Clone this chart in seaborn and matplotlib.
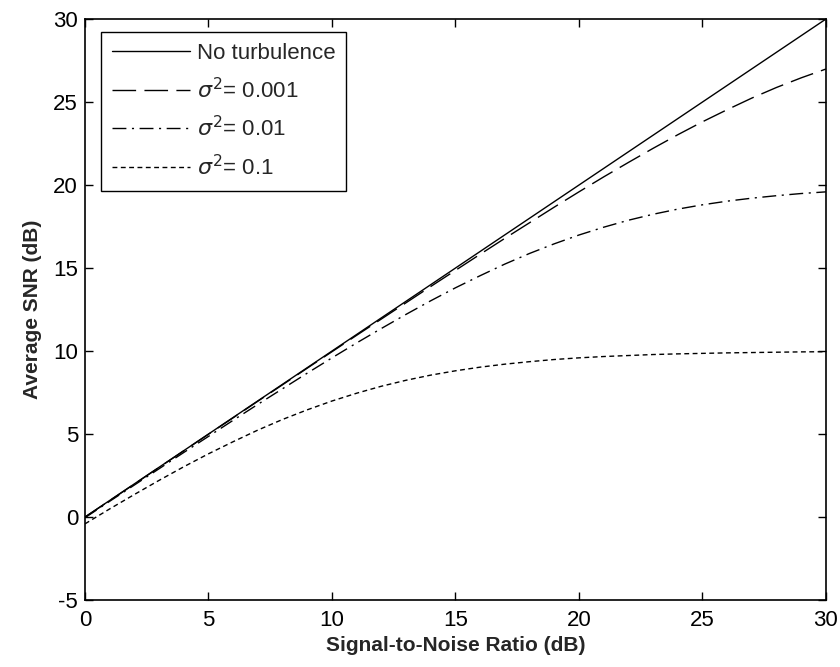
import matplotlib
matplotlib.use("Agg")
import matplotlib.pyplot as plt
import seaborn as sns
import pandas as pd

# Signal-to-noise ratio axis (dB)
snr_db = list(range(0, 31))

# Average SNR (dB) for each turbulence condition
no_turbulence = [float(v) for v in snr_db]
sigma_0001 = [0.00, 0.99, 1.99, 2.99, 3.99, 4.99, 5.98, 6.98, 7.97, 8.97,
              9.96, 10.95, 11.93, 12.91, 13.89, 14.86, 15.83, 16.79, 17.73, 18.67,
              19.59, 20.49, 21.36, 22.21, 23.03, 23.81, 24.54, 25.24, 25.88, 26.46, 26.99]
sigma_001 = [-0.04, 0.95, 1.93, 2.91, 3.89, 4.86, 5.83, 6.79, 7.73, 8.67,
             9.59, 10.49, 11.36, 12.21, 13.03, 13.81, 14.54, 15.24, 15.88, 16.46,
             16.99, 17.46, 17.88, 18.24, 18.55, 18.81, 19.03, 19.21, 19.36, 19.49, 19.59]
sigma_01 = [-0.41, 0.49, 1.36, 2.21, 3.03, 3.81, 4.54, 5.24, 5.88, 6.46,
            6.99, 7.46, 7.88, 8.24, 8.55, 8.81, 9.03, 9.21, 9.36, 9.49,
            9.59, 9.67, 9.73, 9.79, 9.83, 9.86, 9.89, 9.91, 9.93, 9.95, 9.96]

series_names = ["No turbulence", r"$\sigma^2$= 0.001", r"$\sigma^2$= 0.01", r"$\sigma^2$= 0.1"]
series_values = [no_turbulence, sigma_0001, sigma_001, sigma_01]

x_ticks = [0, 5, 10, 15, 20, 25, 30]
y_ticks = [-5, 0, 5, 10, 15, 20, 25, 30]

rows = []
for name, vals in zip(series_names, series_values):
    for x, y in zip(snr_db, vals):
        rows.append({"snr": x, "avg": y, "case": name})
df = pd.DataFrame(rows)

sns.set_theme(style="ticks")
plt.rcParams["font.family"] = ["Liberation Sans", "DejaVu Sans"]
plt.rcParams["mathtext.fontset"] = "dejavusans"
plt.rcParams["axes.unicode_minus"] = False

fig = plt.figure(figsize=(8.4, 6.67), dpi=100)
ax = fig.add_axes([0.1012, 0.1004, 0.882, 0.871])

dash_styles = {
    series_names[0]: "",
    series_names[1]: (17, 6),
    series_names[2]: (10, 4, 1.5, 4),
    series_names[3]: (3.5, 2.5),
}
palette = {n: "black" for n in series_names}

sns.lineplot(data=df, x="snr", y="avg", hue="case", style="case",
             hue_order=series_names, style_order=series_names,
             palette=palette, dashes=dash_styles, linewidth=1.0, ax=ax)

ax.set_xlim(0, 30)
ax.set_ylim(-5, 30)
ax.set_xticks(x_ticks)
ax.set_yticks(y_ticks)
ax.tick_params(direction="in", top=True, right=True, length=6, width=1,
               labelsize=16, colors="black")
ax.tick_params(axis="x", pad=7)
ax.tick_params(axis="y", pad=5)
for s in ax.spines.values():
    s.set_visible(True)
    s.set_linewidth(1.2)
    s.set_color("black")

ax.set_xlabel("Signal-to-Noise Ratio (dB)", fontsize=15, fontweight="bold", labelpad=4)
ax.set_ylabel("Average SNR (dB)", fontsize=15, fontweight="bold", labelpad=8)

handles, labels = ax.get_legend_handles_labels()
leg = ax.legend(handles, labels, loc="upper left", bbox_to_anchor=(0.0216, 0.9776),
                borderaxespad=0, frameon=True, fancybox=False, framealpha=1,
                edgecolor="black", fontsize=16, handlelength=3.5, handletextpad=0.3,
                labelspacing=0.6, borderpad=0.5)
leg.get_frame().set_linewidth(1.0)

fig.savefig("out.png", dpi=100)
